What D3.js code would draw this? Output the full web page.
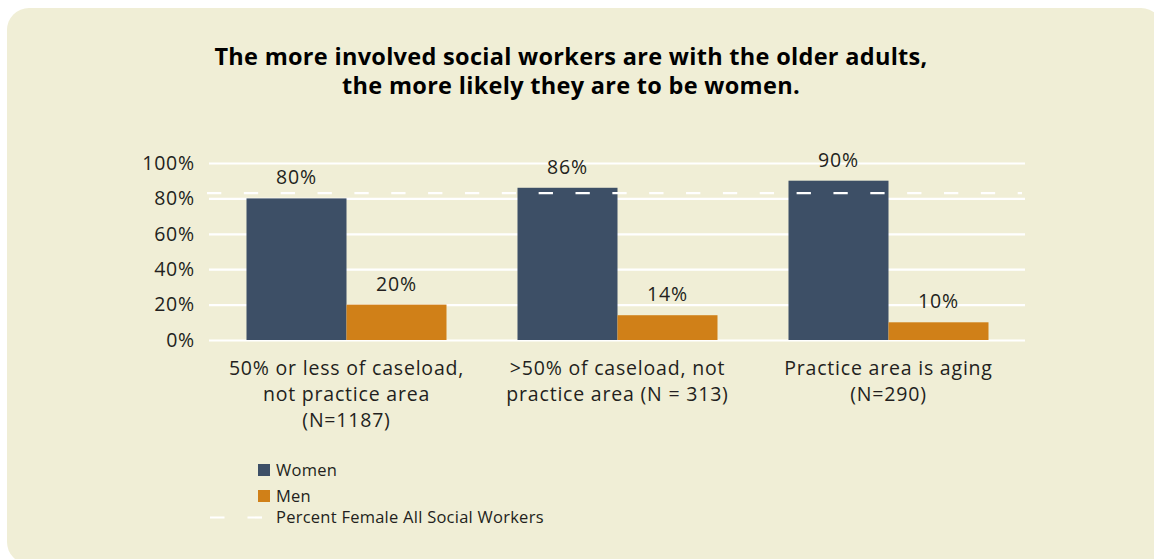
<!DOCTYPE html>
<html>
<head>
<meta charset="utf-8">
<script src="https://cdn.jsdelivr.net/npm/d3@7"></script>
<style>
  html, body { margin: 0; padding: 0; background: #ffffff; }
  svg { display: block; }
  text { font-family: "Open Sans", "Noto Sans", sans-serif; fill: #231f20; }
  .lbl { font-size: 19.5px; letter-spacing: 0.8px; }
  .leg { font-size: 16.5px; letter-spacing: 0.25px; }
</style>
</head>
<body>
<svg id="chart" width="1154" height="559"></svg>
<script>
// Chart data
const categories = [
  ["50% or less of caseload,", "not practice area", "(N=1187)"],
  [">50% of caseload, not", "practice area (N = 313)"],
  ["Practice area is aging", "(N=290)"]
];
const women = [80, 86, 90];
const men = [20, 14, 10];
const allSocialWorkersFemale = 83;
const yTicks = [0, 20, 40, 60, 80, 100];
const seriesNames = ["Women", "Men"];
const lineName = "Percent Female All Social Workers";
const titleLines = [
  "The more involved social workers are with the older adults,",
  "the more likely they are to be women."
];

const colors = { Women: "#3d4f66", Men: "#d08018" };

const svg = d3.select("#chart");

// Panel background
svg.append("rect")
  .attr("x", 7).attr("y", 8)
  .attr("width", 1156).attr("height", 556)
  .attr("rx", 22).attr("ry", 22)
  .attr("fill", "#f0eed6");

// Title
svg.append("g").selectAll("text")
  .data(titleLines)
  .join("text")
  .attr("x", 571)
  .attr("y", (d, i) => 65 + i * 29)
  .attr("text-anchor", "middle")
  .style("font-weight", "bold")
  .style("font-size", "23.5px")
  .style("letter-spacing", "0.3px")
  .style("fill", "#000")
  .text(d => d);

// Scales
const x0 = d3.scaleBand()
  .domain(d3.range(categories.length))
  .range([211, 1024])
  .paddingInner(0.262)
  .paddingOuter(0.131);
const x1 = d3.scaleBand()
  .domain(seriesNames)
  .range([0, x0.bandwidth()]);
const y = d3.scaleLinear().domain([0, 100]).range([340, 163]);

// Gridlines + y axis labels
const yAxis = d3.axisLeft(y)
  .tickValues(yTicks)
  .tickFormat(d => d + "%")
  .tickSize(0)
  .tickPadding(14);
const yg = svg.append("g").attr("transform", "translate(209,0)").call(yAxis);
yg.select(".domain").remove();
yg.selectAll("text").attr("class", "lbl").attr("font-size", null).attr("font-family", null)
  .style("fill", "#231f20");
yg.selectAll(".tick").append("line")
  .attr("x1", 0).attr("x2", 1025 - 209)
  .attr("stroke", "#ffffff").attr("stroke-width", 2.2);

// Bars
const rows = women.map((w, i) => ({ i, values: [
  { key: "Women", value: w },
  { key: "Men", value: men[i] }
]}));

const groups = svg.append("g").selectAll("g")
  .data(rows)
  .join("g")
  .attr("transform", d => `translate(${x0(d.i)},0)`);

groups.selectAll("rect")
  .data(d => d.values)
  .join("rect")
  .attr("x", d => x1(d.key))
  .attr("y", d => y(d.value))
  .attr("width", x1.bandwidth())
  .attr("height", d => y(0) - y(d.value))
  .attr("fill", d => colors[d.key]);

groups.selectAll("text.val")
  .data(d => d.values)
  .join("text")
  .attr("class", "val lbl")
  .attr("x", d => x1(d.key) + x1.bandwidth() / 2)
  .attr("y", d => y(d.value) - 14)
  .attr("text-anchor", "middle")
  .text(d => d.value + "%");

// Reference line: percent female among all social workers
svg.append("line")
  .attr("x1", 207).attr("x2", 1022)
  .attr("y1", y(allSocialWorkersFemale)).attr("y2", y(allSocialWorkersFemale))
  .attr("stroke", "#ffffff").attr("stroke-width", 2.2)
  .attr("stroke-dasharray", "14.3,22.55");

// Category labels
svg.append("g").selectAll("text")
  .data(categories)
  .join("text")
  .attr("class", "lbl")
  .attr("text-anchor", "middle")
  .each(function (lines, i) {
    d3.select(this).selectAll("tspan")
      .data(lines)
      .join("tspan")
      .attr("x", x0(i) + x0.bandwidth() / 2)
      .attr("y", (d, j) => 375 + j * 26)
      .text(d => d);
  });

// Legend
const legend = svg.append("g");
seriesNames.forEach((name, i) => {
  legend.append("rect")
    .attr("x", 258).attr("y", 464 + i * 26)
    .attr("width", 12).attr("height", 12)
    .attr("fill", colors[name]);
  legend.append("text")
    .attr("class", "leg")
    .attr("x", 276).attr("y", 476 + i * 26)
    .text(name);
});
legend.append("line")
  .attr("x1", 210).attr("x2", 262)
  .attr("y1", 517.5).attr("y2", 517.5)
  .attr("stroke", "#ffffff").attr("stroke-width", 2.2)
  .attr("stroke-dasharray", "14.5,23");
legend.append("text")
  .attr("class", "leg")
  .attr("x", 276).attr("y", 523)
  .text(lineName);
</script>
</body>
</html>
